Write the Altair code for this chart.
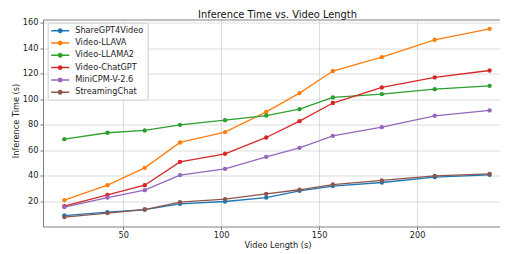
import altair as alt
import pandas as pd

lengths = [20, 42, 61, 79, 102, 123, 140, 157, 182, 209, 237]
models = ["ShareGPT4Video", "Video-LLAVA", "Video-LLAMA2", "Video-ChatGPT", "MiniCPM-V-2.6", "StreamingChat"]
colors = ["#1f77b4", "#ff7f0e", "#2ca02c", "#d62728", "#9467bd", "#8c564b"]

sharegpt4video = [8.7, 11.4, 13.4, 17.9, 19.7, 22.8, 28.1, 31.8, 34.6, 38.8, 40.6]
video_llava = [20.8, 32.5, 46.1, 66.0, 74.1, 90.0, 104.7, 122.0, 132.9, 146.5, 155.1]
video_llama2 = [68.6, 73.6, 75.4, 79.8, 83.5, 87.1, 92.1, 101.3, 103.9, 107.8, 110.4]
video_chatgpt = [16.1, 24.9, 32.5, 50.8, 57.1, 69.9, 82.7, 96.9, 109.1, 117.0, 122.4]
minicpm = [15.3, 22.8, 28.6, 40.4, 45.3, 54.7, 61.8, 71.2, 78.0, 86.9, 91.1]
streamingchat = [7.5, 10.6, 13.4, 19.2, 21.6, 25.7, 28.9, 33.0, 36.2, 39.8, 41.4]

x_ticks = [50, 100, 150, 200]
y_ticks = [20, 40, 60, 80, 100, 120, 140, 160]

series = [sharegpt4video, video_llava, video_llama2, video_chatgpt, minicpm, streamingchat]
rows = []
for m, vals in zip(models, series):
    for i, (x, y) in enumerate(zip(lengths, vals)):
        rows.append({"model": m, "length": x, "time": y, "order": i})
df = pd.DataFrame(rows)

font = "DejaVu Sans"
xs = alt.Scale(domain=[9.1, 242.3], nice=False, zero=False)
ys = alt.Scale(domain=[0.1, 162.4], nice=False, zero=False)

xaxis = alt.Axis(values=x_ticks, title="Video Length (s)", grid=True,
                 titleX=234.5, titleY=20.5, titleBaseline="alphabetic", labelOverlap=False)
yaxis = alt.Axis(values=y_ticks, title="Inference Time (s)", grid=True,
                 titleX=-24.5, titleY=101, titleBaseline="alphabetic", labelOverlap=False)
topaxis = alt.Axis(orient="top", labels=False, ticks=False, grid=False, title=None, domain=True)

legend_path = ("M-1,-0.17H3V0.17H-1Z "
               "M1.55,0A0.55,0.55,0,1,1,0.45,0A0.55,0.55,0,1,1,1.55,0Z")

cscale = alt.Scale(domain=models, range=colors)
leg = alt.Legend(title=None, orient="none", legendX=4.7, legendY=3.2,
                 symbolType=legend_path, symbolSize=81,
                 symbolStrokeWidth=0, labelOffset=15,
                 rowPadding=3.3, padding=3.5)

base = alt.Chart(df)
lines = base.mark_line(strokeWidth=1.3).encode(
    x=alt.X("length:Q", scale=xs, axis=xaxis),
    y=alt.Y("time:Q", scale=ys, axis=yaxis),
    color=alt.Color("model:N", scale=cscale, legend=leg),
    order="order:Q",
    detail="model:N",
)
points = base.mark_point(filled=True, size=19, opacity=1).encode(
    x=alt.X("length:Q", scale=xs, axis=topaxis),
    y=alt.Y("time:Q", scale=ys, axis=yaxis),
    color=alt.Color("model:N", scale=cscale, legend=leg),
)

chart = alt.layer(lines, points).resolve_axis(x="independent").properties(
    width=457, height=207,
    title=alt.TitleParams("Inference Time vs. Video Length", font=font, fontSize=9.9,
                          fontWeight="normal", color="#111", offset=2, dy=4, dx=6),
    autosize=alt.AutoSizeParams(type="none"),
    padding={"left": 35, "top": 11.5, "right": 0, "bottom": 23.5},
).configure_view(
    stroke=None
).configure_axis(
    domain=True, domainColor="#808080", domainWidth=1,
    gridColor="#d4d4d4", gridWidth=0.8, tickColor="#555", tickSize=3,
    tickWidth=0.8, labelFont=font, labelFontSize=8.2, labelColor="#222", labelPadding=2,
    titleFont=font, titleFontSize=8.2, titleFontWeight="normal", titleColor="#222",
    labelOverlap=False,
).configure_legend(
    labelFont=font, labelFontSize=8.2, labelColor="#222", strokeColor="#cccccc",
    fillColor="white", cornerRadius=2,
)

chart.save("out.html", embed_options={"renderer": "svg", "actions": False})
